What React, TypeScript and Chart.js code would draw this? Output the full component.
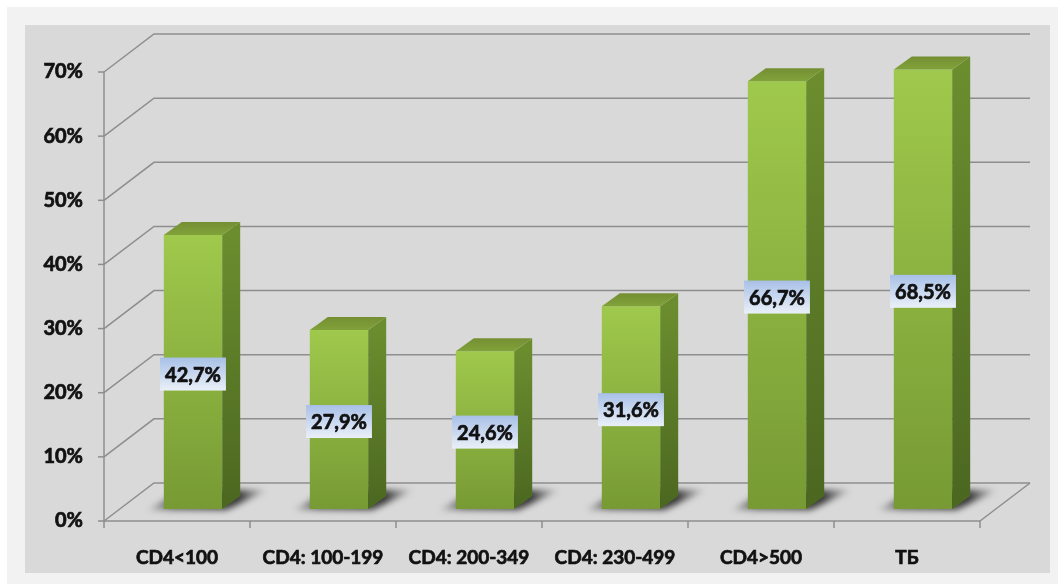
import React, { useEffect, useRef } from "react";
import { Chart, registerables } from "chart.js";

Chart.register(...registerables);

// ---- data ----
const categories = ["CD4<100", "CD4: 100-199", "CD4: 200-349", "CD4: 230-499", "CD4>500", "ТБ"];
const values = [42.7, 27.9, 24.6, 31.6, 66.7, 68.5];
const valueLabels = ["42,7%", "27,9%", "24,6%", "31,6%", "66,7%", "68,5%"];
const yTickValues = [0, 10, 20, 30, 40, 50, 60, 70];

// ---- 3D styling ----
const W = 1058;
const H = 584;
const WALL_DX = 50;
const WALL_DY = -38;
const BAR_OFF_X = 16;
const BAR_OFF_Y = -12;
const BAR_DX = 18;
const BAR_DY = -13;
const GRID = "#8e8e8e";
const FONT = "Lato, 'Open Sans', 'DejaVu Sans', sans-serif";

const threeD = {
  id: "threeD",
  beforeDraw(chart: any) {
    const ctx = chart.ctx as CanvasRenderingContext2D;
    const { left, right, top, bottom } = chart.chartArea;
    const ys = chart.scales.y;
    const xs = chart.scales.x;
    ctx.save();
    ctx.fillStyle = "#ffffff";
    ctx.fillRect(0, 0, W, H);
    ctx.fillStyle = "#f2f2f2";
    ctx.fillRect(7, 7, W - 7, H - 7);
    ctx.fillStyle = "#d9d9d9";
    ctx.fillRect(25, 25, 1025, 548);

    ctx.strokeStyle = GRID;
    ctx.lineWidth = 1.5;
    for (const v of yTickValues) {
      const py = ys.getPixelForValue(v);
      ctx.beginPath();
      ctx.moveTo(left, py);
      ctx.lineTo(left + WALL_DX, py + WALL_DY);
      ctx.lineTo(right + WALL_DX, py + WALL_DY);
      ctx.stroke();
      ctx.beginPath();
      ctx.moveTo(left - 6, py);
      ctx.lineTo(left, py);
      ctx.stroke();
    }
    // floor right edge
    ctx.beginPath();
    ctx.moveTo(right, bottom);
    ctx.lineTo(right + WALL_DX, bottom + WALL_DY);
    ctx.stroke();
    // y axis
    ctx.beginPath();
    ctx.moveTo(left, top);
    ctx.lineTo(left, bottom);
    ctx.stroke();
    // x axis + ticks
    ctx.beginPath();
    ctx.moveTo(left, bottom);
    ctx.lineTo(right, bottom);
    ctx.stroke();
    const catW = xs.getPixelForValue(1) - xs.getPixelForValue(0);
    for (let i = 0; i <= categories.length; i++) {
      const bx = xs.getPixelForValue(0) - catW / 2 + i * catW;
      ctx.beginPath();
      ctx.moveTo(bx, bottom);
      ctx.lineTo(bx, bottom + 7);
      ctx.stroke();
    }
    ctx.restore();
  },
  beforeDatasetsDraw(chart: any) {
    const ctx = chart.ctx as CanvasRenderingContext2D;
    const meta = chart.getDatasetMeta(0);
    ctx.save();
    ctx.translate(BAR_OFF_X, BAR_OFF_Y);
    for (const bar of meta.data) {
      const { x, width, base } = bar.getProps(["x", "width", "base"], true);
      const L = x - width / 2;
      const R = x + width / 2;
      ctx.save();
      ctx.filter = "blur(3px)";
      const g = ctx.createLinearGradient(L - 16, 0, R + BAR_DX + 28, 0);
      g.addColorStop(0, "rgba(45,45,45,0.15)");
      g.addColorStop(0.2, "rgba(45,45,45,0.7)");
      g.addColorStop(0.75, "rgba(45,45,45,0.95)");
      g.addColorStop(1, "rgba(45,45,45,0)");
      ctx.fillStyle = g;
      ctx.beginPath();
      ctx.moveTo(L - 16, base + 1);
      ctx.lineTo(R + 4, base + 1);
      ctx.lineTo(R + BAR_DX + 28, base + BAR_DY - 6);
      ctx.lineTo(L + BAR_DX, base + BAR_DY - 6);
      ctx.closePath();
      ctx.fill();
      ctx.restore();
    }
  },
  afterDatasetsDraw(chart: any) {
    const ctx = chart.ctx as CanvasRenderingContext2D;
    const meta = chart.getDatasetMeta(0);
    const bars = meta.data.map((b: any) => b.getProps(["x", "y", "width", "base"], true));
    for (const b of bars) {
      const L = b.x - b.width / 2;
      const R = b.x + b.width / 2;
      const t = b.y;
      const bs = b.base;
      // side
      const sg = ctx.createLinearGradient(0, t, 0, bs);
      sg.addColorStop(0, "#6b8d2e");
      sg.addColorStop(1, "#4b6720");
      ctx.fillStyle = sg;
      ctx.beginPath();
      ctx.moveTo(R, t);
      ctx.lineTo(R + BAR_DX, t + BAR_DY);
      ctx.lineTo(R + BAR_DX, bs + BAR_DY);
      ctx.lineTo(R, bs);
      ctx.closePath();
      ctx.fill();
      // top
      const tg = ctx.createLinearGradient(0, t + BAR_DY, 0, t);
      tg.addColorStop(0, "#748f33");
      tg.addColorStop(1, "#81a23a");
      ctx.fillStyle = tg;
      ctx.beginPath();
      ctx.moveTo(L, t);
      ctx.lineTo(L + BAR_DX, t + BAR_DY);
      ctx.lineTo(R + BAR_DX, t + BAR_DY);
      ctx.lineTo(R, t);
      ctx.closePath();
      ctx.fill();
    }
    ctx.restore(); // end translation

    // value labels
    ctx.save();
    ctx.font = `bold 20px ${FONT}`;
    ctx.textAlign = "center";
    ctx.textBaseline = "middle";
    bars.forEach((b: any, i: number) => {
      const cx = b.x + BAR_OFF_X;
      const cy = (b.y + b.base) / 2 + BAR_OFF_Y + 2;
      const text = valueLabels[i];
      const tw = ctx.measureText(text).width;
      const bw = tw + 10;
      const bh = 33;
      const g = ctx.createLinearGradient(0, cy - bh / 2, 0, cy + bh / 2);
      g.addColorStop(0, "#a8c0e7");
      g.addColorStop(1, "#eaf0f8");
      ctx.fillStyle = g;
      ctx.fillRect(cx - bw / 2, cy - bh / 2, bw, bh);
      ctx.fillStyle = "#111111";
      ctx.strokeStyle = "#111111";
      ctx.lineWidth = 0.7;
      ctx.strokeText(text, cx, cy + 1);
      ctx.fillText(text, cx, cy + 1);
    });
    ctx.restore();
  },
};

export default function App() {
  const ref = useRef<HTMLCanvasElement | null>(null);
  useEffect(() => {
    if (!ref.current) return;
    const chart = new Chart(ref.current, {
      type: "bar",
      data: {
        labels: categories,
        datasets: [
          {
            data: values,
            backgroundColor: (c: any) => {
              const ch = c.chart;
              const ys = ch.scales && ch.scales.y;
              if (!ys || c.dataIndex === undefined) return "#8db53f";
              const tp = ys.getPixelForValue(values[c.dataIndex]);
              const bt = ys.getPixelForValue(0);
              if (!isFinite(tp) || !isFinite(bt) || tp === bt) return "#8db53f";
              const g = ch.ctx.createLinearGradient(0, tp, 0, bt);
              g.addColorStop(0, "#9fc94c");
              g.addColorStop(1, "#779a34");
              return g;
            },
            borderWidth: 0,
            barPercentage: 0.4,
            categoryPercentage: 1,
            clip: false as any,
          },
        ],
      },
      options: {
        animation: false,
        responsive: false,
        devicePixelRatio: 1,
        layout: { padding: { top: 72, right: 78, bottom: 0, left: 0 } },
        plugins: { legend: { display: false }, tooltip: { enabled: false } },
        scales: {
          x: {
            offset: true,
            grid: { display: false, drawTicks: false },
            border: { display: false },
            ticks: {
              font: { family: FONT, weight: "bold", size: 19 },
              color: "#111111",
              textStrokeColor: "#111111",
              textStrokeWidth: 0.7,
              padding: 25,
              maxRotation: 0,
              autoSkip: false,
            },
            afterFit: (s: any) => {
              s.height = 63;
            },
          },
          y: {
            min: 0,
            max: 70,
            grid: { display: false, drawTicks: false },
            border: { display: false },
            ticks: {
              stepSize: 10,
              callback: (v: any) => `${v}%`,
              font: { family: FONT, weight: "bold", size: 20 },
              color: "#111111",
              textStrokeColor: "#111111",
              textStrokeWidth: 0.7,
              padding: 21,
            },
            afterFit: (s: any) => {
              s.width = 104;
            },
          },
        },
      },
      plugins: [threeD],
    });
    return () => chart.destroy();
  }, []);
  return (
    <div style={{ position: "absolute", left: 0, top: 0, width: W, height: H }}>
      <canvas ref={ref} width={W} height={H} style={{ width: W, height: H, display: "block" }} />
    </div>
  );
}
